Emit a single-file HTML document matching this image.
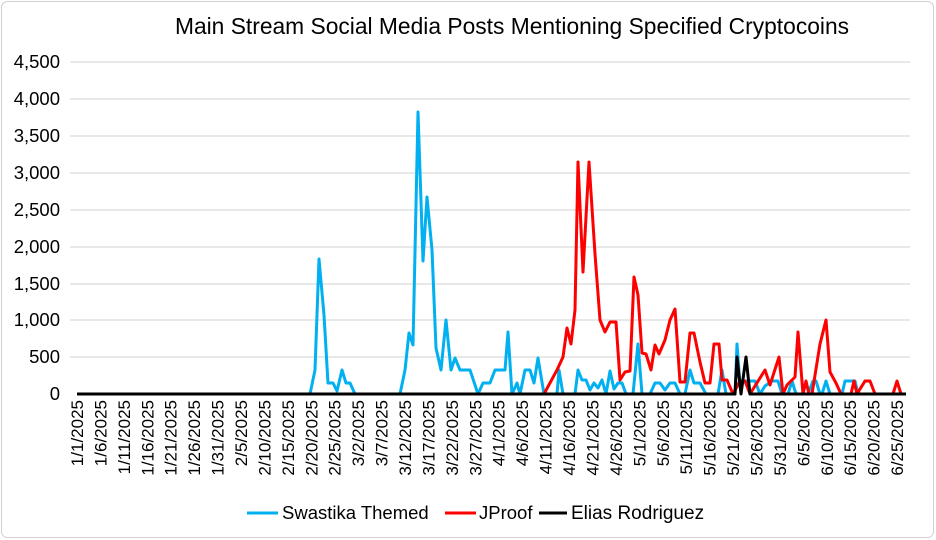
<!DOCTYPE html>
<html><head><meta charset="utf-8"><style>
html,body{margin:0;padding:0;background:#fff}
svg{display:block;font-family:"Liberation Sans",Arial,sans-serif}
</style></head><body>
<svg width="936" height="540" viewBox="0 0 936 540" xmlns="http://www.w3.org/2000/svg">
<rect x="1.5" y="1.5" width="932" height="536" rx="6" fill="#fff" stroke="#d0d0d0"/>
<text x="512" y="34" font-size="22.8" text-anchor="middle" fill="#000">Main Stream Social Media Posts Mentioning Specified Cryptocoins</text>
<g stroke="#d9d9d9" stroke-width="1.3">
<line x1="70" x2="910" y1="62" y2="62"/><line x1="70" x2="910" y1="99" y2="99"/>
<line x1="70" x2="910" y1="136" y2="136"/><line x1="70" x2="910" y1="173" y2="173"/>
<line x1="70" x2="910" y1="210" y2="210"/><line x1="70" x2="910" y1="247" y2="247"/>
<line x1="70" x2="910" y1="284" y2="284"/><line x1="70" x2="910" y1="320" y2="320"/>
<line x1="70" x2="910" y1="357" y2="357"/>
</g>
<g font-size="18.5" text-anchor="end" fill="#000">
<text x="60" y="68">4,500</text><text x="60" y="105">4,000</text><text x="60" y="142">3,500</text>
<text x="60" y="179">3,000</text><text x="60" y="216">2,500</text><text x="60" y="253">2,000</text>
<text x="60" y="290">1,500</text><text x="60" y="326">1,000</text><text x="60" y="363">500</text>
<text x="60" y="400">0</text>
</g>
<g font-size="17" text-anchor="end" fill="#000">
<text transform="translate(83,400) rotate(-90)">1/1/2025</text>
<text transform="translate(106.4,400) rotate(-90)">1/6/2025</text>
<text transform="translate(129.9,400) rotate(-90)">1/11/2025</text>
<text transform="translate(153.3,400) rotate(-90)">1/16/2025</text>
<text transform="translate(176.7,400) rotate(-90)">1/21/2025</text>
<text transform="translate(200.2,400) rotate(-90)">1/26/2025</text>
<text transform="translate(223.6,400) rotate(-90)">1/31/2025</text>
<text transform="translate(247,400) rotate(-90)">2/5/2025</text>
<text transform="translate(270.4,400) rotate(-90)">2/10/2025</text>
<text transform="translate(293.9,400) rotate(-90)">2/15/2025</text>
<text transform="translate(317.3,400) rotate(-90)">2/20/2025</text>
<text transform="translate(340.7,400) rotate(-90)">2/25/2025</text>
<text transform="translate(364.2,400) rotate(-90)">3/2/2025</text>
<text transform="translate(387.6,400) rotate(-90)">3/7/2025</text>
<text transform="translate(411,400) rotate(-90)">3/12/2025</text>
<text transform="translate(434.5,400) rotate(-90)">3/17/2025</text>
<text transform="translate(457.9,400) rotate(-90)">3/22/2025</text>
<text transform="translate(481.3,400) rotate(-90)">3/27/2025</text>
<text transform="translate(504.7,400) rotate(-90)">4/1/2025</text>
<text transform="translate(528.2,400) rotate(-90)">4/6/2025</text>
<text transform="translate(551.6,400) rotate(-90)">4/11/2025</text>
<text transform="translate(575,400) rotate(-90)">4/16/2025</text>
<text transform="translate(598.5,400) rotate(-90)">4/21/2025</text>
<text transform="translate(621.9,400) rotate(-90)">4/26/2025</text>
<text transform="translate(645.3,400) rotate(-90)">5/1/2025</text>
<text transform="translate(668.8,400) rotate(-90)">5/6/2025</text>
<text transform="translate(692.2,400) rotate(-90)">5/11/2025</text>
<text transform="translate(715.6,400) rotate(-90)">5/16/2025</text>
<text transform="translate(739,400) rotate(-90)">5/21/2025</text>
<text transform="translate(762.5,400) rotate(-90)">5/26/2025</text>
<text transform="translate(785.9,400) rotate(-90)">5/31/2025</text>
<text transform="translate(809.3,400) rotate(-90)">6/5/2025</text>
<text transform="translate(832.8,400) rotate(-90)">6/10/2025</text>
<text transform="translate(856.2,400) rotate(-90)">6/15/2025</text>
<text transform="translate(879.6,400) rotate(-90)">6/20/2025</text>
<text transform="translate(903.1,400) rotate(-90)">6/25/2025</text>
</g>
<g fill="none" stroke-linejoin="round" stroke-width="3">
<polyline stroke="#00b0f0" points="77,394 310,394 315,370 319,259 324,315 328,383 333,383 337,391 342,370 346,383 350,383 355,394 400,394 405,370 409,333 413,345 418,112 423,261 427,197 432,250 436,348 441,370 446,320 451,370 455,358 460,370 470,370 478,394 483,383 490,383 495,370 505,370 508,332 512,394 517,383 520,394 525,370 530,370 534,383 538,358 544,394 557,394 559,370 563,394 575,394 578,370 582,380 586,380 590,390 594,383 598,388 602,380 606,394 610,371 614,389 618,383 622,383 626,394 633,394 638,344 642,394 650,394 655,383 660,383 665,390 670,383 675,383 680,394 685,394 690,370 694,383 700,383 706,394 718,394 722,370 726,394 735,394 737,344 740,385 745,381 755,381 760,394 765,386 772,381 778,381 782,394 788,394 792,381 796,394 808,394 813,381 816,381 820,394 822,394 826,381 830,394 842,394 845,381 855,381 858,394 906,394"/>
<polyline stroke="#ff0000" points="544,394 557,370 563,357 567,328 571,344 575,310 578,162 583,272 589,162 595,254 600,320 605,332 610,322 616,322 620,380 625,372 630,371 634,277 638,295 642,353 646,354 651,370 655,345 659,354 665,340 670,320 675,309 680,382 685,382 690,333 694,333 700,362 705,383 710,383 714,344 719,344 722,380 727,380 733,394 740,381 745,381 750,394 765,370 770,385 779,357 783,394 787,385 795,377 798,332 803,394 806,381 809,394 812,394 820,344 826,320 830,372 836,383 841,394 851,394 854,381 857,394 865,381 870,381 875,394 893,394 897,381 901,394 906,394"/>
<polyline stroke="#000" points="77,394 735,394 737,357 741,394 746,357 750,394 906,394"/>
</g>
<g font-size="18.5" fill="#000">
<line x1="247" x2="278" y1="513" y2="513" stroke="#00b0f0" stroke-width="3"/>
<text x="282" y="519">Swastika Themed</text>
<line x1="445" x2="476" y1="513" y2="513" stroke="#ff0000" stroke-width="3"/>
<text x="479" y="519">JProof</text>
<line x1="539" x2="567" y1="513" y2="513" stroke="#000" stroke-width="3"/>
<text x="571" y="519" font-size="19">Elias Rodriguez</text>
</g>
</svg>
</body></html>
